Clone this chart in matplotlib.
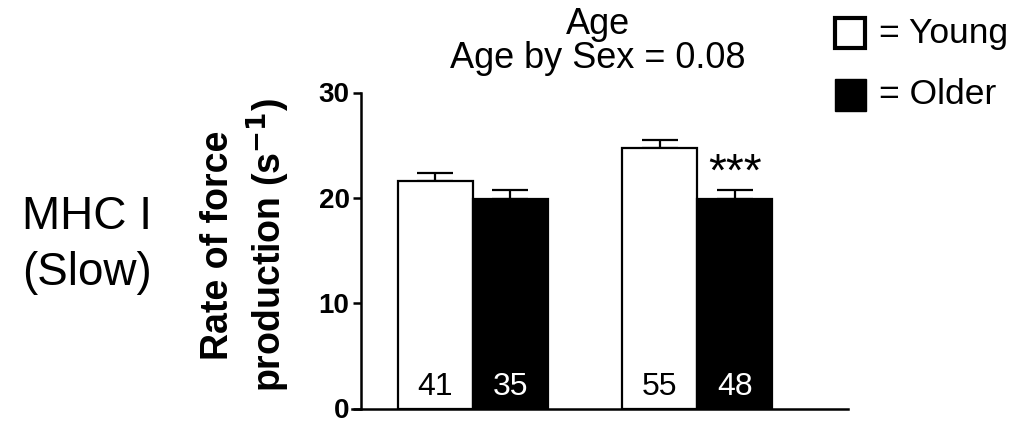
import matplotlib
matplotlib.use("Agg")
import matplotlib.pyplot as plt
from matplotlib.patches import Rectangle

plt.rcParams['font.family'] = ['Liberation Sans', 'DejaVu Sans']

# MHC I fibres, rate of force production
groups = ["Young", "Older", "Young", "Older"]
means = [21.6, 19.9, 24.7, 19.9]
sems = [0.75, 0.85, 0.75, 0.85]
counts = ["41", "35", "55", "48"]
positions = [0, 1, 3, 4]
colors = {"Young": "white", "Older": "black"}
yticks = [0, 10, 20, 30]

fig = plt.figure(figsize=(10.17, 4.25), dpi=100)
ax = fig.add_axes([352 / 1017, 16.5 / 425, 496 / 1017, 316 / 425])

for x, g, m, e in zip(positions, groups, means, sems):
    ax.bar(x, m, width=1.0, color=colors[g], edgecolor="black", linewidth=1.6, zorder=2)
    ax.errorbar(x, m, yerr=[[0], [e]], color="black", elinewidth=1.6,
                capsize=13, capthick=1.6, zorder=1)

for x, g, n in zip(positions, groups, counts):
    ax.text(x, 2.0, n, ha="center", va="center", fontsize=23,
            color="black" if g == "Young" else "white", zorder=3)

ax.text(4, 22.3, "***", ha="center", va="center", fontsize=33)

ax.spines["top"].set_visible(False)
ax.spines["right"].set_visible(False)
ax.spines["left"].set_position(("data", -1.0))
ax.spines["left"].set_bounds(0, 30)
for s in ("left", "bottom"):
    ax.spines[s].set_linewidth(1.8)

ax.set_xlim(-1.116, 5.515)
ax.set_ylim(0, 30)
ax.set_xticks([])
ax.set_yticks(yticks)
ax.set_yticklabels([str(t) for t in yticks])
ax.tick_params(axis="y", direction="out", length=6, width=1.8, pad=2, labelsize=20)
for lbl in ax.get_yticklabels():
    lbl.set_fontweight("bold")

fig.text(246 / 1017, 1 - 245 / 425, "Rate of force\nproduction (s$^{\\mathbf{-1}}$)",
         rotation=90, ha="center", va="center", fontsize=27, fontweight="bold",
         linespacing=1.2)

fig.text(598 / 1017, 1 - 24 / 425, "Age", ha="center", va="center", fontsize=26)
fig.text(598 / 1017, 1 - 59 / 425, "Age by Sex = 0.08", ha="center", va="center", fontsize=26)

fig.text(22 / 1017, 1 - 217 / 425, "MHC I", ha="left", va="center", fontsize=33)
fig.text(22 / 1017, 1 - 273 / 425, "(Slow)", ha="left", va="center", fontsize=33)

# key boxes
fig.patches.append(Rectangle((835 / 1017, 1 - 48 / 425), 30 / 1017, 30 / 425,
                             transform=fig.transFigure, facecolor="white",
                             edgecolor="black", linewidth=3, figure=fig))
fig.patches.append(Rectangle((835 / 1017, 1 - 111 / 425), 31 / 1017, 32 / 425,
                             transform=fig.transFigure, facecolor="black",
                             edgecolor="black", linewidth=1, figure=fig))
fig.text(879 / 1017, 1 - 34 / 425, "= Young", ha="left", va="center", fontsize=25.5)
fig.text(879 / 1017, 1 - 95 / 425, "= Older", ha="left", va="center", fontsize=25.5)

fig.savefig("out.png", dpi=100)
